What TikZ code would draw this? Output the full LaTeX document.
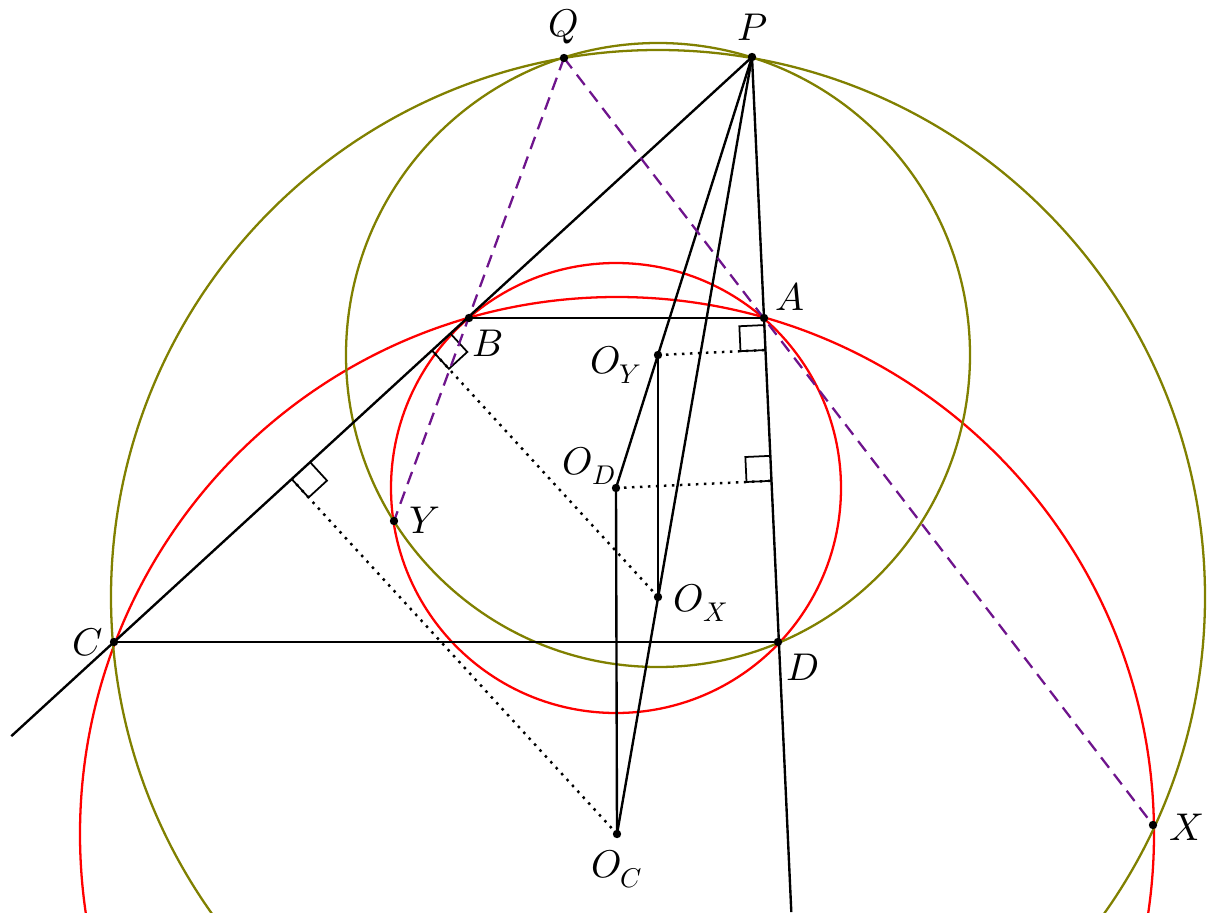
\documentclass[tikz,border=0pt]{standalone}
\usepackage{unicode-math}
\usetikzlibrary{calc}
\definecolor{olivec}{RGB}{128,128,0}
\definecolor{purp}{RGB}{110,20,140}
\begin{document}
\begin{tikzpicture}[x=0.02cm,y=-0.02cm,
  geo/.style={line width=1.35pt,black},
  circ/.style={line width=1.3pt},
  dotl/.style={line width=1.4pt,dash pattern=on 0.05cm off 0.11cm},
  dsh/.style={line width=1.3pt,purp,dash pattern=on 0.26cm off 0.16cm},
  rmark/.style={line width=1pt},
  lbl/.style={font=\fontsize{22}{26}\selectfont,inner sep=0pt}]
\useasboundingbox (0,0) rectangle (1215,923);
% points
\coordinate (P) at (752,57);
\coordinate (Q) at (564,58);
\coordinate (A) at (764,318);
\coordinate (B) at (469,318);
\coordinate (C) at (114,642);
\coordinate (D) at (778,642);
\coordinate (OY) at (658,355);
\coordinate (OD) at (616,488);
\coordinate (OX) at (658,597);
\coordinate (OC) at (617,834);
\coordinate (Y) at (394,521);
\coordinate (X) at (1153,825);
\coordinate (E) at ($(P)!1.161!(C)$);
\coordinate (G) at ($(P)!3.276!(A)$);
\begin{scope}
\clip (-20,-20) rectangle (1235,912);
\draw[circ,red] (OD) circle (225);
\draw[circ,red] (OC) circle (537);
\draw[circ,olivec] (OY) circle (312);
\draw[circ,olivec] (OX) circle (547);
\end{scope}
% main lines
\draw[geo] (P) -- (E);
\draw[geo] (B) -- (A);
\draw[geo] (C) -- (D);
\draw[geo] (P) -- (OD);
\draw[geo] (P) -- (OC);
\draw[geo] (P) -- (G);
\draw[geo] (OY) -- (OX);
\draw[geo] (OD) -- (OC);
% feet of perpendiculars
\coordinate (F1) at ($(P)!(OY)!(A)$);
\coordinate (F2) at ($(P)!(OD)!(A)$);
\coordinate (F3) at ($(P)!(OX)!(C)$);
\coordinate (F4) at ($(P)!(OC)!(C)$);
\draw[dotl] (OY) -- (F1);
\draw[dotl] (OD) -- (F2);
\draw[dotl] (OX) -- (F3);
\draw[dotl] (OC) -- (F4);
\foreach \f/\o in {F1/OY,F2/OD,F3/OX,F4/OC}{
  \coordinate (\f a) at ($(\f)!0.5cm!(P)$);
  \coordinate (\f b) at ($(\f)!0.5cm!(\o)$);
  \draw[rmark] (\f) -- (\f b) -- ($(\f a)+(\f b)-(\f)$) -- (\f a);
}
% dashed
\draw[dsh] (Q) -- (Y);
\draw[dsh] (Q) -- (X);
% dots
\foreach \p in {P,Q,A,B,C,D,OY,OD,OX,OC,Y,X}
  \fill (\p) circle (4.2);
% labels
\node[lbl] (lQ) at (564,27) {$Q$};
\node[lbl] (lP) at (753,27) {$P$};
\node[lbl] (lA) at (790,297) {$A$};
\node[lbl] (lB) at (488,343) {$B$};
\node[lbl] (lOY) at (616,365) {$O_Y$};
\node[lbl] (lOD) at (589,466) {$O_D$};
\node[lbl] (lC) at (88,642) {$C$};
\node[lbl] (lD) at (803,667) {$D$};
\node[lbl] (lOX) at (701,603) {$O_X$};
\node[lbl] (lOC) at (617,869) {$O_C$};
\node[lbl] (lY) at (425,520) {$Y$};
\node[lbl] (lX) at (1186,827) {$X$};
\end{tikzpicture}
\end{document}
